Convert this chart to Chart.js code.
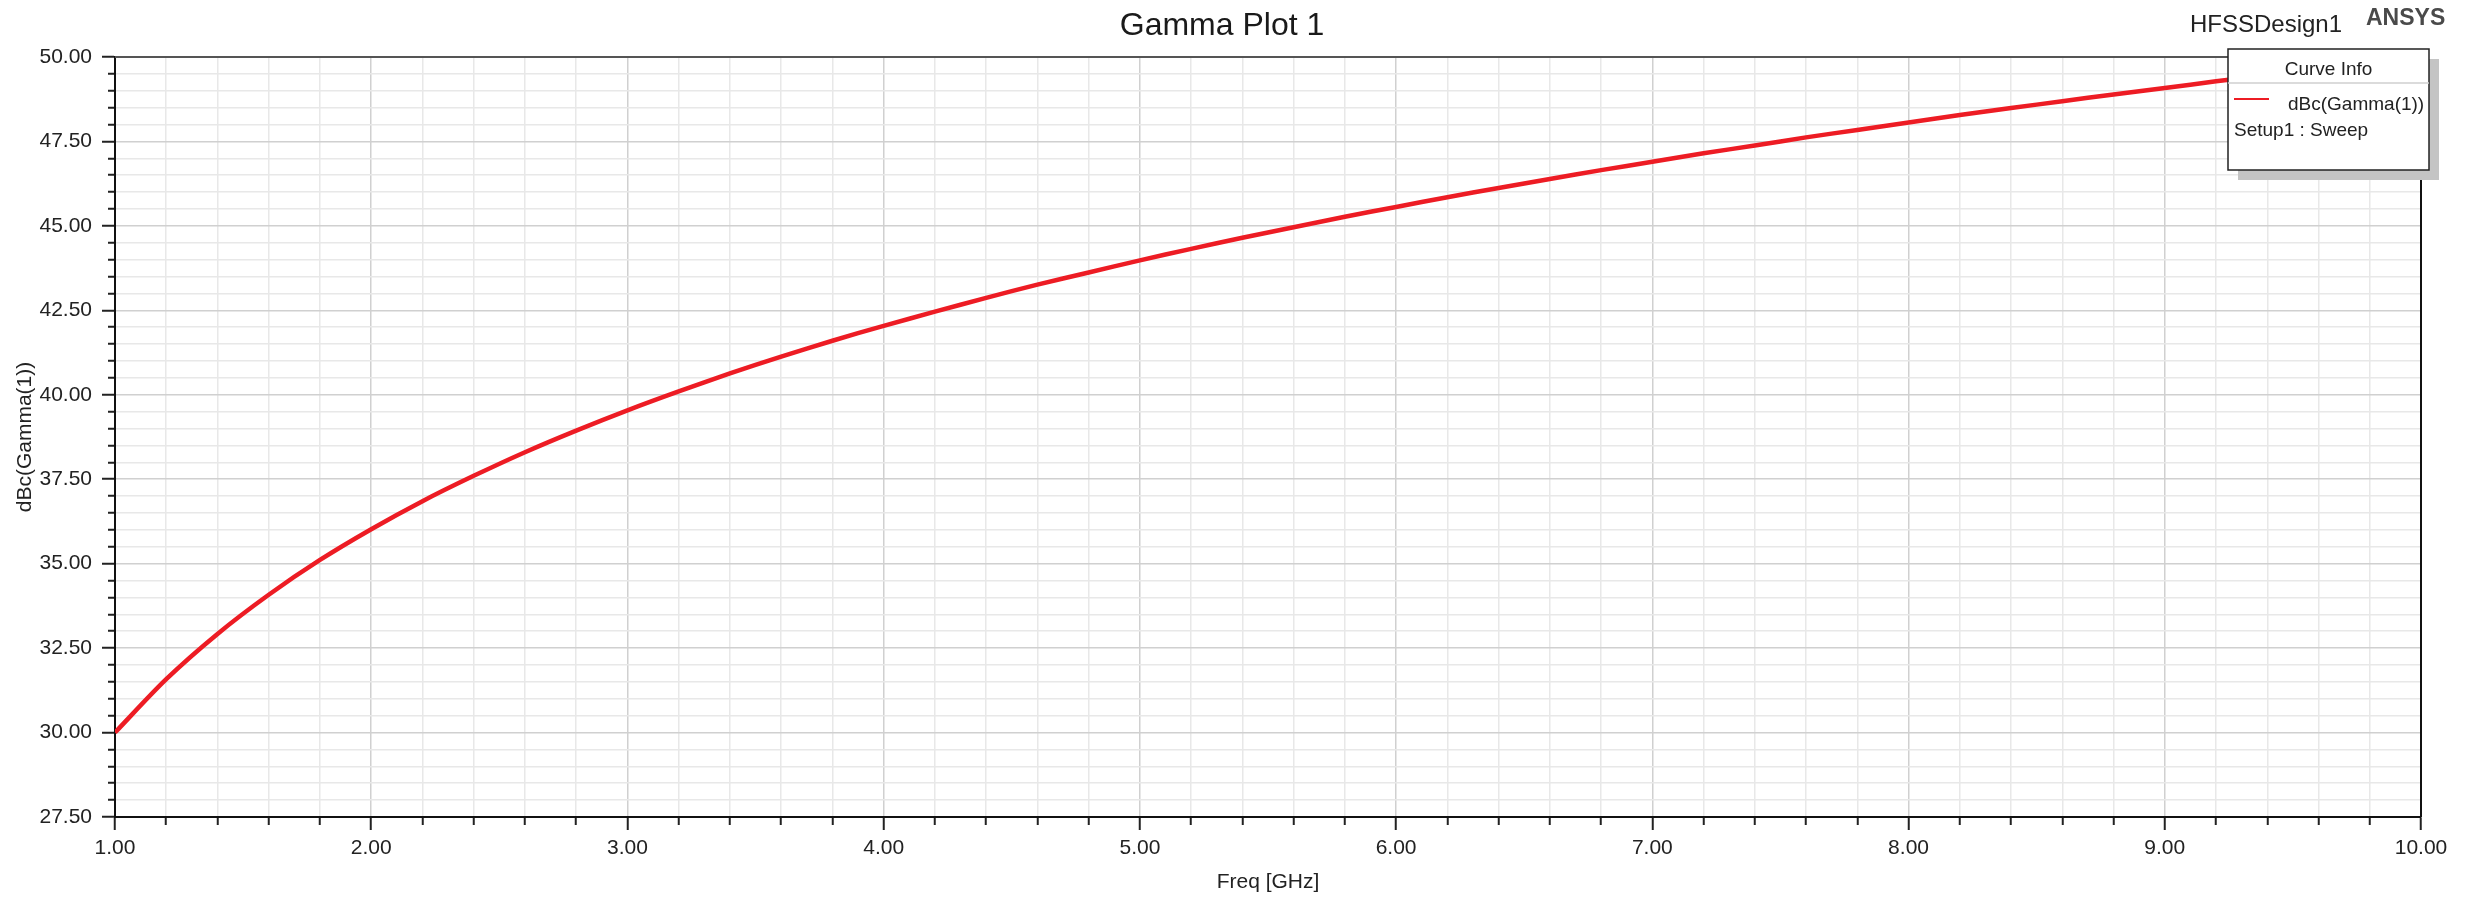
<!DOCTYPE html>
<html>
<head>
<meta charset="utf-8">
<title>Gamma Plot 1</title>
<script src="https://cdn.jsdelivr.net/npm/chart.js@4.4.1/dist/chart.umd.min.js"></script>
<style>
  html, body { margin: 0; padding: 0; background: #fff; }
  #wrap { width: 2466px; height: 897px; }
</style>
</head>
<body>
<div id="wrap"><canvas id="gammaChart" width="2466" height="897"></canvas></div>
<script>
// values (Freq in GHz, dBc(Gamma(1)))
const freqGHz = [1.0, 1.2, 1.4, 1.6, 1.8, 2.0, 2.2, 2.4, 2.6, 2.8, 3.0, 3.2, 3.4, 3.6, 3.8,
  4.0, 4.2, 4.4, 4.6, 4.8, 5.0, 5.2, 5.4, 5.6, 5.8, 6.0, 6.2, 6.4, 6.6, 6.8,
  7.0, 7.2, 7.4, 7.6, 7.8, 8.0, 8.2, 8.4, 8.6, 8.8, 9.0, 9.2, 9.4, 9.6, 9.8, 10.0];
const dBcGamma = [30.00, 31.58, 32.92, 34.08, 35.11, 36.02, 36.85, 37.60, 38.30, 38.94, 39.54, 40.10, 40.63, 41.13, 41.60,
  42.04, 42.46, 42.87, 43.26, 43.62, 43.98, 44.32, 44.65, 44.96, 45.27, 45.56, 45.85, 46.12, 46.39, 46.65,
  46.90, 47.15, 47.38, 47.62, 47.84, 48.06, 48.28, 48.49, 48.69, 48.89, 49.08, 49.28, 49.46, 49.65, 49.82, 50.00];

const xMin = 1, xMax = 10, xMajor = 1, xMinor = 0.2;
const yMin = 27.5, yMax = 50, yMajor = 2.5, yMinor = 0.5;

const curveName = "dBc(Gamma(1))";
const curveSetup = "Setup1 : Sweep";

const FONT = "'Liberation Sans', Arial, sans-serif";
const RED = "rgb(237, 28, 36)";

const isMajor = (v, origin, step) => {
  const k = (v - origin) / step;
  return Math.abs(k - Math.round(k)) < 1e-6;
};

// frame, title texts and the "Curve Info" box
const decorations = {
  id: "decorations",
  afterDraw(chart) {
    const ctx = chart.ctx;
    const a = chart.chartArea;
    ctx.save();

    // top and right edges of the plot frame
    ctx.lineWidth = 2;
    ctx.strokeStyle = "#555";
    ctx.beginPath();
    ctx.moveTo(a.left, a.top);
    ctx.lineTo(a.right, a.top);
    ctx.stroke();
    ctx.strokeStyle = "#111";
    ctx.beginPath();
    ctx.moveTo(a.right, a.top);
    ctx.lineTo(a.right, a.bottom);
    ctx.stroke();

    ctx.fillStyle = "#1a1a1a";
    ctx.textBaseline = "alphabetic";
    ctx.textAlign = "center";
    ctx.font = "32px " + FONT;
    ctx.fillText("Gamma Plot 1", 1222, 35);

    ctx.textAlign = "left";
    ctx.font = "24px " + FONT;
    ctx.fillStyle = "#222";
    ctx.fillText("HFSSDesign1", 2190, 32);
    ctx.font = "bold 23px " + FONT;
    ctx.fillStyle = "#4a4a4a";
    ctx.fillText("ANSYS", 2366, 25);

    // legend box
    const bx = 2228, by = 49, bw = 201, bh = 121;
    ctx.fillStyle = "#c4c4c4";
    ctx.fillRect(bx + 10, by + 10, bw, bh);
    ctx.fillStyle = "#fff";
    ctx.fillRect(bx, by, bw, bh);
    ctx.strokeStyle = "#222";
    ctx.lineWidth = 1.5;
    ctx.strokeRect(bx, by, bw, bh);
    ctx.strokeStyle = "#cfcfcf";
    ctx.lineWidth = 1.5;
    ctx.beginPath();
    ctx.moveTo(bx, 83);
    ctx.lineTo(bx + bw, 83);
    ctx.stroke();

    ctx.fillStyle = "#222";
    ctx.font = "19px " + FONT;
    ctx.textAlign = "center";
    ctx.fillText("Curve Info", bx + bw / 2, 75);
    ctx.textAlign = "left";
    ctx.fillText(curveName, 2288, 110);
    ctx.fillText(curveSetup, 2234, 136);

    ctx.strokeStyle = RED;
    ctx.lineWidth = 2;
    ctx.beginPath();
    ctx.moveTo(2234, 99);
    ctx.lineTo(2269, 99);
    ctx.stroke();

    ctx.restore();
  }
};

new Chart(document.getElementById("gammaChart"), {
  type: "line",
  data: {
    datasets: [{
      label: curveName,
      data: freqGHz.map((f, i) => ({ x: f, y: dBcGamma[i] })),
      borderColor: RED,
      borderWidth: 4.5,
      pointRadius: 0,
      tension: 0.3,
      fill: false
    }]
  },
  options: {
    responsive: false,
    animation: false,
    layout: { padding: { top: 57, right: 45, bottom: 0, left: 0 } },
    plugins: {
      legend: { display: false },
      tooltip: { enabled: false },
      title: { display: false }
    },
    scales: {
      x: {
        type: "linear",
        position: "bottom",
        min: xMin,
        max: xMax,
        afterFit: (s) => { s.height = 80; },
        border: { display: true, color: "#111", width: 2 },
        grid: {
          color: (c) => c.tick && isMajor(c.tick.value, xMin, xMajor) ? "#d0d0d0" : "#e8e8e8",
          lineWidth: 1.5,
          tickLength: 13,
          tickColor: "#222",
          tickWidth: 2,
          tickBorderDash: (c) => c.tick && isMajor(c.tick.value, xMin, xMajor) ? [] : [7, 100]
        },
        ticks: {
          stepSize: xMinor,
          autoSkip: false,
          maxRotation: 0,
          padding: 6,
          color: "#222",
          font: { family: FONT, size: 21 },
          callback: (v) => isMajor(v, xMin, xMajor) ? Number(v).toFixed(2) : ""
        },
        title: {
          display: true,
          text: "Freq [GHz]",
          color: "#222",
          font: { family: FONT, size: 21 },
          padding: { top: 0, bottom: 2 }
        }
      },
      y: {
        type: "linear",
        position: "left",
        min: yMin,
        max: yMax,
        afterFit: (s) => { s.width = 115; },
        border: { display: true, color: "#111", width: 2 },
        grid: {
          color: (c) => c.tick && isMajor(c.tick.value, yMin, yMajor) ? "#d0d0d0" : "#e8e8e8",
          lineWidth: 1.5,
          tickLength: 13,
          tickColor: "#222",
          tickWidth: 2,
          tickBorderDash: (c) => c.tick && isMajor(c.tick.value, yMin, yMajor) ? [] : [0, 6, 7, 100]
        },
        ticks: {
          stepSize: yMinor,
          autoSkip: false,
          padding: 10,
          color: "#222",
          font: { family: FONT, size: 21 },
          callback: (v) => isMajor(v, yMin, yMajor) ? Number(v).toFixed(2) : ""
        },
        title: {
          display: true,
          text: "dBc(Gamma(1))",
          color: "#222",
          font: { family: FONT, size: 21 },
          padding: { top: 13, bottom: 0 }
        }
      }
    }
  },
  plugins: [decorations]
});
</script>
</body>
</html>
